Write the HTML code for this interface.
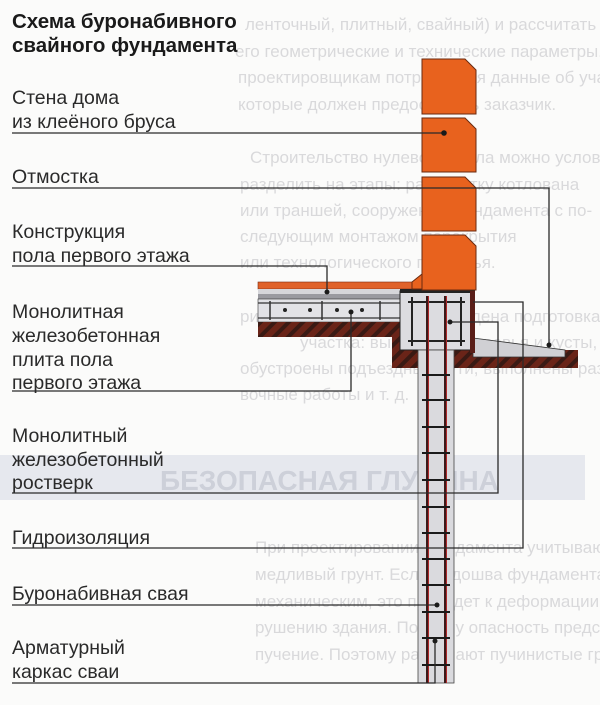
<!DOCTYPE html>
<html><head><meta charset="utf-8"><style>
html,body{margin:0;padding:0;background:#fbfbfa;}
svg{display:block}
.l{font-family:"Liberation Sans","Noto Sans CJK SC",sans-serif;font-size:19.5px;fill:#2a2a2a}
.t{font-family:"Liberation Sans","Noto Sans CJK SC",sans-serif;font-size:20.5px;font-weight:bold;fill:#1a1a1a}
.b{font-family:"Liberation Sans",sans-serif;font-size:17px;fill:#d9d9db}
</style></head><body>
<svg width="600" height="705" viewBox="0 0 600 705" xmlns="http://www.w3.org/2000/svg">
<defs>
<pattern id="h" width="10" height="10" patternUnits="userSpaceOnUse" patternTransform="rotate(45)">
<rect width="10" height="10" fill="#6a2418"/><rect width="4" height="10" fill="#3a1a14"/></pattern>
</defs>
<!-- bleed-through -->
<rect x="0" y="455" width="585" height="45" fill="#e6e8ee"/>
<g class="b">
<text x="245" y="30">ленточный, плитный, свайный) и рассчитать</text>
<text x="235" y="57">его геометрические и технические параметры.</text>
<text x="238" y="83">проектировщикам потребуются данные об участке,</text>
<text x="238" y="110">которые должен предоставить заказчик.</text>
<text x="250" y="163">Строительство нулевого цикла можно условно</text>
<text x="240" y="190">разделить на этапы: разработку котлована</text>
<text x="240" y="216">или траншей, сооружение фундамента с по-</text>
<text x="240" y="242">следующим монтажом перекрытия</text>
<text x="240" y="268">или технологического подполья.</text>
<text x="330" y="296">что предва-</text>
<text x="240" y="322">рительно должна быть проведена подготовка</text>
<text x="300" y="348">участка: вырублены деревья и кусты,</text>
<text x="240" y="374">обустроены подъездные пути, выполнены разби-</text>
<text x="240" y="400">вочные работы и т. д.</text>
<text x="255" y="553">При проектировании фундамента учитывают</text>
<text x="255" y="580">медливый грунт. Если подошва фундамента будет</text>
<text x="255" y="607">механическим, это приведет к деформации и раз-</text>
<text x="255" y="633">рушению здания. Поэтому опасность представляет</text>
<text x="255" y="660">пучение. Поэтому различают пучинистые грунты</text>
</g>
<text x="160" y="490" style="font-family:'Liberation Sans',sans-serif;font-size:28px;font-weight:bold;fill:#cdd0d9">БЕЗОПАСНАЯ ГЛУБИНА</text>

<!-- title & labels -->
<text class="t" x="12" y="28">Схема буронабивного</text>
<text class="t" x="12" y="52">свайного фундамента</text>
<text class="l" x="12" y="104">Стена дома</text>
<text class="l" x="12" y="128">из клеёного бруса</text>
<text class="l" x="12" y="183">Отмостка</text>
<text class="l" x="12" y="238">Конструкция</text>
<text class="l" x="12" y="262">пола первого этажа</text>
<text class="l" x="12" y="318">Монолитная</text>
<text class="l" x="12" y="342">железобетонная</text>
<text class="l" x="12" y="366">плита пола</text>
<text class="l" x="12" y="389">первого этажа</text>
<text class="l" x="12" y="442">Монолитный</text>
<text class="l" x="12" y="466">железобетонный</text>
<text class="l" x="12" y="489">ростверк</text>
<text class="l" x="12" y="544">Гидроизоляция</text>
<text class="l" x="12" y="600">Буронабивная свая</text>
<text class="l" x="12" y="654">Арматурный</text>
<text class="l" x="12" y="678">каркас сваи</text>

<!-- slab -->
<rect x="258" y="282" width="170" height="7" fill="#e0622a" stroke="#7a2a10" stroke-width="0.6"/>
<rect x="258" y="289" width="142" height="5" fill="#d6d6da"/>
<rect x="258" y="294" width="142" height="5" fill="#9a9aa0"/>
<rect x="258" y="299" width="142" height="23" fill="#e2e2e6" stroke="#333" stroke-width="0.6"/>
<line x1="258" y1="303" x2="400" y2="303" stroke="#333" stroke-width="1.2"/>
<line x1="258" y1="318" x2="400" y2="318" stroke="#333" stroke-width="1.2"/>
<g fill="#222"><circle cx="285" cy="310" r="2"/><circle cx="310" cy="310" r="2"/><circle cx="337" cy="310" r="2"/><circle cx="362" cy="310" r="2"/></g>
<g stroke="#333" stroke-width="1.5"><line x1="270" y1="301" x2="270" y2="320"/><line x1="322" y1="301" x2="322" y2="320"/><line x1="380" y1="301" x2="380" y2="320"/></g>
<path d="M258 322H400V368H392V337H258Z" fill="url(#h)"/>
<!-- soil outside -->
<rect x="392" y="350" width="186" height="18" fill="url(#h)"/>
<!-- otmostka -->
<path d="M473 338L565 350V357H473Z" fill="#d0d0d4" stroke="#333" stroke-width="0.8"/>
<!-- rostverk -->
<rect x="400" y="291" width="73" height="59" fill="#dcdce0" stroke="#222" stroke-width="1"/>
<rect x="400" y="289" width="75" height="4" fill="#222"/>
<rect x="470" y="291" width="5" height="62" fill="#5a1e18"/>
<g stroke="#222" stroke-width="2"><line x1="408" y1="302" x2="465" y2="302"/><line x1="408" y1="341" x2="465" y2="341"/>
<line x1="412" y1="297" x2="412" y2="346"/><line x1="461" y1="297" x2="461" y2="346"/></g>
<!-- pile -->
<rect x="418" y="350" width="36" height="333" fill="#dadade" stroke="#444" stroke-width="0.8"/>
<g stroke-width="2"><line x1="427" y1="296" x2="427" y2="683" stroke="#3a1a1a"/><line x1="445" y1="296" x2="445" y2="683" stroke="#3a1a1a"/>
<line x1="428.5" y1="296" x2="428.5" y2="683" stroke="#b0282a" stroke-width="1"/><line x1="446.5" y1="296" x2="446.5" y2="683" stroke="#b0282a" stroke-width="1"/></g>
<g stroke="#1a1a1a" stroke-width="2">
<line x1="422" y1="375" x2="450" y2="375"/><line x1="422" y1="400" x2="450" y2="400"/><line x1="422" y1="427" x2="450" y2="427"/><line x1="422" y1="453" x2="450" y2="453"/><line x1="422" y1="480" x2="450" y2="480"/><line x1="422" y1="507" x2="450" y2="507"/><line x1="422" y1="533" x2="450" y2="533"/><line x1="422" y1="559" x2="450" y2="559"/><line x1="422" y1="585" x2="450" y2="585"/><line x1="422" y1="612" x2="450" y2="612"/><line x1="422" y1="638" x2="450" y2="638"/><line x1="422" y1="665" x2="450" y2="665"/></g>
<!-- logs -->
<g fill="#e8621e" stroke="#6a2a10" stroke-width="1">
<path d="M422 59H465L476 70V114H422Z"/><path d="M422 118H465L476 129V172H422Z"/>
<path d="M422 177H465L476 188V231H422Z"/><path d="M422 235H465L476 246V290H422Z"/>
<path d="M412 282L422 274V289H412Z"/></g>
<!-- leaders -->
<g fill="none" stroke="#2a2a2a" stroke-width="1.3">
<polyline points="12,133 444,133"/>
<polyline points="12,188 549,188 549,345"/>
<polyline points="12,266 327,266 327,292"/>
<polyline points="12,391 351,391 351,312"/>
<polyline points="12,493 498,493 498,322 450,322"/>
<polyline points="12,548 523,548 523,302 473,302"/>
<polyline points="12,605 437,605"/>
<polyline points="12,683 435,683 435,641"/>
</g>
<g fill="#1a1a1a"><circle cx="444" cy="133" r="2.8"/><circle cx="549" cy="345" r="2.5"/><circle cx="327" cy="292" r="2.5"/><circle cx="351" cy="312" r="2.5"/><circle cx="450" cy="322" r="2.5"/><circle cx="437" cy="605" r="2.5"/><circle cx="435" cy="641" r="2.5"/></g>
</svg>
</body></html>
